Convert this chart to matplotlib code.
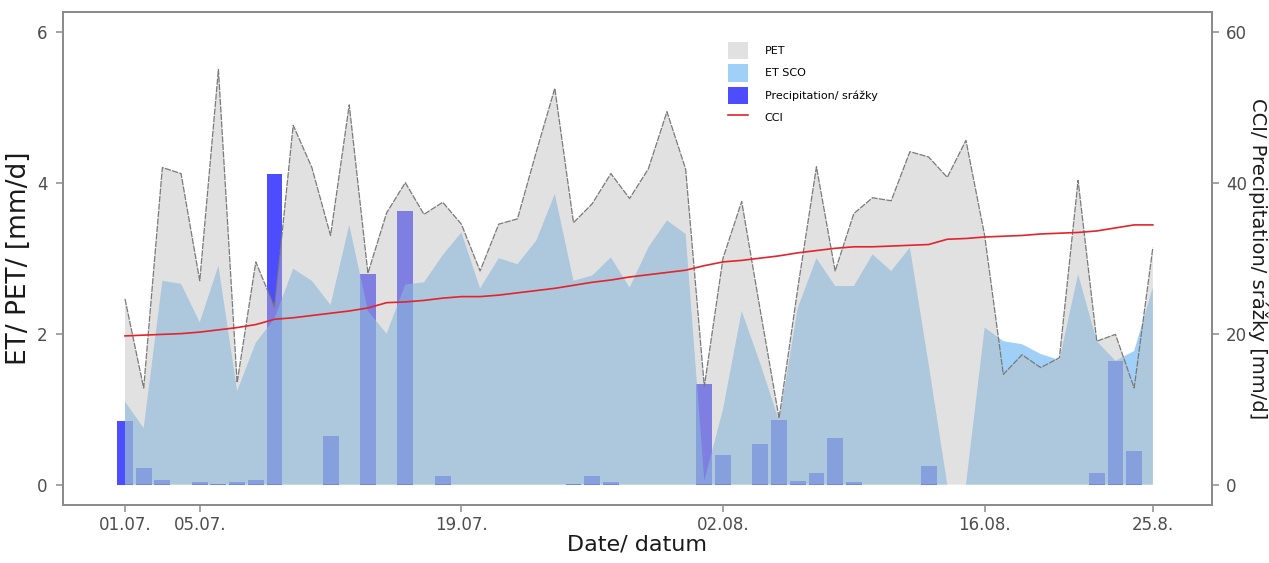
import matplotlib
matplotlib.use("Agg")
import matplotlib.pyplot as plt
import matplotlib.dates as mdates
import pandas as pd

# daily values 01.07. - 25.08.
dates = pd.date_range("2019-07-01", periods=56, freq="D").to_pydatetime()

pet = [2.46, 1.28, 4.2, 4.12, 2.7, 5.5, 1.35, 2.95, 2.35, 4.76,
       4.2, 3.3, 5.03, 2.8, 3.6, 4.0, 3.58, 3.74, 3.45, 2.83,
       3.45, 3.52, 4.4, 5.25, 3.47, 3.72, 4.12, 3.79, 4.18, 4.94,
       4.18, 1.3, 3.0, 3.75, 2.3, 0.88, 2.6, 4.21, 2.83, 3.59,
       3.8, 3.76, 4.41, 4.34, 4.07, 4.56, 3.3, 1.46, 1.72, 1.55,
       1.68, 4.03, 1.9, 1.99, 1.28, 3.14]

et_sco = [1.1, 0.75, 2.7, 2.66, 2.15, 2.9, 1.24, 1.88, 2.2, 2.86,
          2.7, 2.38, 3.44, 2.3, 2.0, 2.65, 2.68, 3.04, 3.34, 2.6,
          3.0, 2.92, 3.23, 3.85, 2.7, 2.77, 3.01, 2.61, 3.14, 3.5,
          3.32, 0.05, 1.0, 2.3, 1.6, 0.84, 2.34, 3.0, 2.63, 2.63,
          3.05, 2.83, 3.14, 1.6, 0.0, 0.0, 2.08, 1.9, 1.86, 1.73,
          1.65, 2.79, 1.9, 1.64, 1.77, 2.61]

precip = [8.4, 2.2, 0.6, 0, 0.3, 0.05, 0.3, 0.6, 41.2, 0,
          0, 6.4, 0, 27.9, 0, 36.3, 0, 1.2, 0, 0,
          0, 0, 0, 0, 0.1, 1.1, 0.3, 0, 0, 0,
          0, 13.3, 3.9, 0, 5.4, 8.6, 0.5, 1.5, 6.2, 0.3,
          0, 0, 0, 2.5, 0, 0, 0, 0, 0, 0,
          0, 0, 1.6, 16.4, 4.4, 0]

cci = [19.7, 19.8, 19.9, 20.0, 20.2, 20.5, 20.8, 21.2, 21.9, 22.1,
       22.4, 22.7, 23.0, 23.4, 24.1, 24.2, 24.4, 24.7, 24.9, 24.9,
       25.1, 25.4, 25.7, 26.0, 26.4, 26.8, 27.1, 27.5, 27.8, 28.1,
       28.4, 29.0, 29.5, 29.7, 30.0, 30.3, 30.7, 31.0, 31.3, 31.5,
       31.5, 31.6, 31.7, 31.8, 32.5, 32.6, 32.8, 32.9, 33.0, 33.2,
       33.3, 33.4, 33.6, 34.0, 34.4, 34.4]

tick_dates = ["2019-07-01", "2019-07-05", "2019-07-19", "2019-08-02", "2019-08-16", "2019-08-25"]
tick_labels = ["01.07.", "05.07.", "19.07.", "02.08.", "16.08.", "25.8."]

x = mdates.date2num(dates)

fig = plt.figure(figsize=(12.69, 5.63), dpi=100)
ax = fig.add_axes([0.0496, 0.103, 0.9054, 0.8757])
ax_p = ax.twinx()   # precipitation, drawn below the areas
ax_c = ax.twinx()   # CCI on top
ax_p.set_zorder(ax.get_zorder() - 1)
ax.patch.set_visible(False)
ax_c.patch.set_visible(False)

bars = ax_p.bar(x, precip, width=0.85, color=(0.30, 0.30, 1.0), label="Precipitation/ srážky")

et_area = ax.fill_between(x, 0, et_sco, facecolor=(97/255, 177/255, 243/255), alpha=0.6,
                          linewidth=0, label="ET SCO")
pet_area = ax.fill_between(x, 0, pet, facecolor=(0.745, 0.745, 0.745), alpha=0.45,
                           linewidth=0, label="PET")
ax.plot(x, pet, color="#7a7a7a", lw=0.9, ls=(0, (5, 1)))

cci_line, = ax_c.plot(x, cci, color="#e3242b", lw=1.2, label="CCI")

ax.set_xlim(x[0] - 3.32, x[0] + 58.16)
ax.set_ylim(-0.27, 6.26)
ax_p.set_ylim(-2.7, 62.6)
ax_c.set_ylim(-2.7, 62.6)

ax.set_yticks([0, 2, 4, 6])
ax_p.set_yticks([0, 20, 40, 60])
ax_c.set_yticks([])
ax.set_xticks(mdates.date2num(pd.to_datetime(tick_dates).to_pydatetime()))
ax.set_xticklabels(tick_labels)

for a in (ax, ax_p, ax_c):
    for s in a.spines.values():
        s.set_color("#8c8c8c")
        s.set_linewidth(1.3)
for a in (ax, ax_p):
    a.tick_params(colors="#8c8c8c", labelcolor="#4d4d4d", labelsize=12, length=5, width=1.1)
ax.tick_params(axis="x", pad=3)
ax.tick_params(axis="y", pad=6)
ax_p.tick_params(axis="y", pad=5)

ax.set_ylabel("ET/ PET/ [mm/d]", fontsize=19, color="#1a1a1a", labelpad=4)
ax.set_xlabel("Date/ datum", fontsize=16, color="#1a1a1a", labelpad=0)
ax_p.set_ylabel("CCI/ Precipitation/ srážky [mm/d]", fontsize=14, color="#1a1a1a",
                rotation=270, va="bottom", labelpad=1)

ax_c.legend(handles=[pet_area, et_area, bars, cci_line], loc="upper left",
            bbox_to_anchor=(0.574, 0.95), frameon=False, fontsize=8,
            handlelength=1.8, handleheight=2.0, labelspacing=0.45,
            handletextpad=1.5, borderpad=0)

fig.savefig("out.png", dpi=100)
